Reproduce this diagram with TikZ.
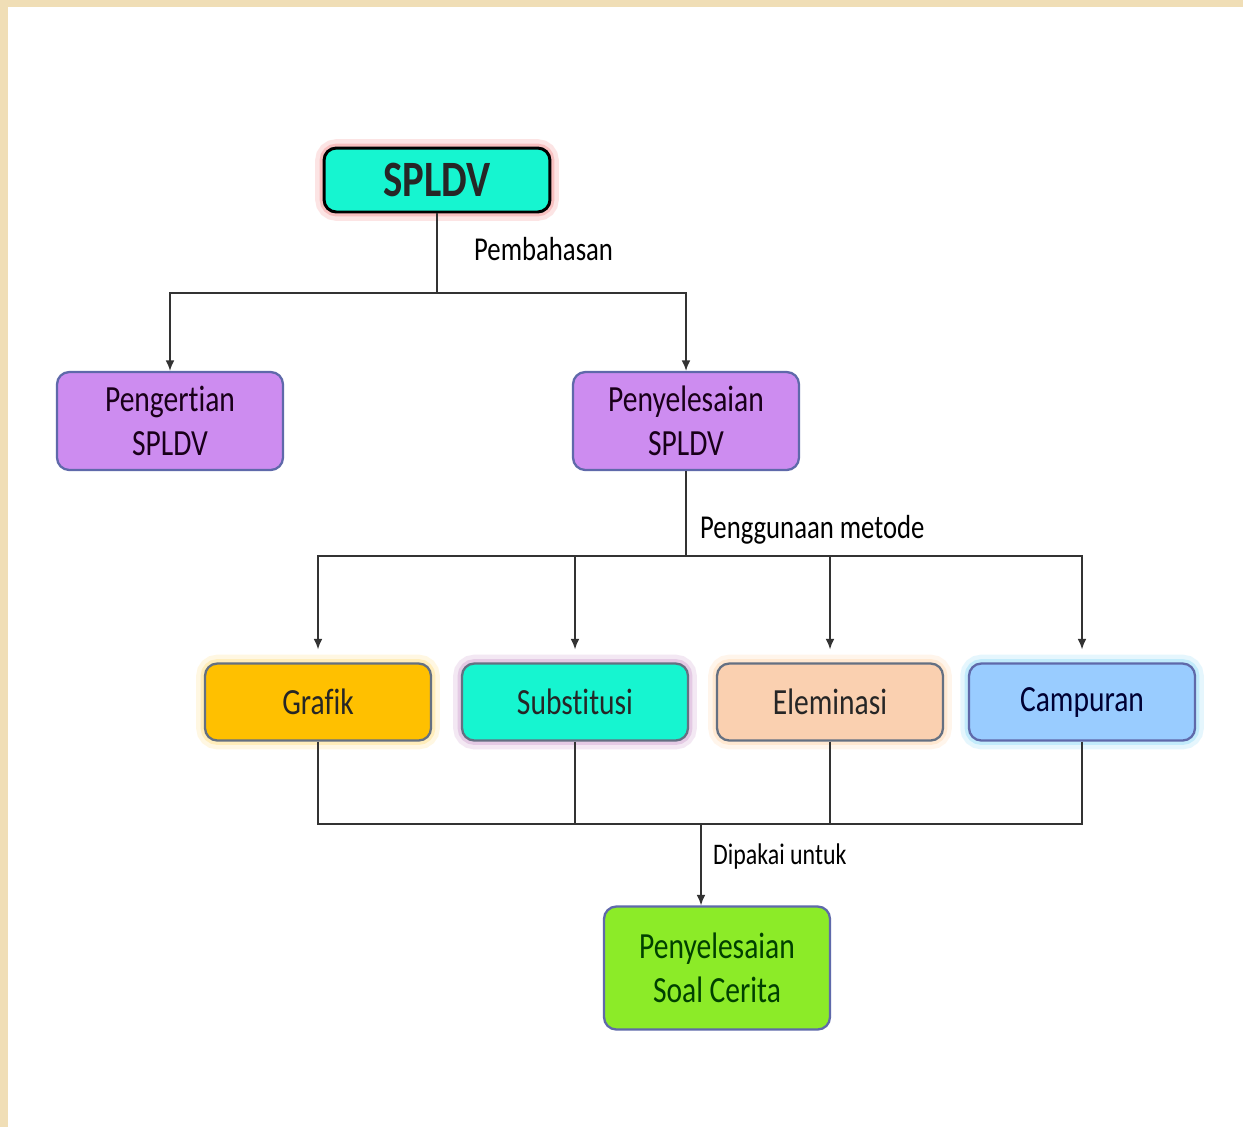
\documentclass[tikz,border=0pt]{standalone}
\usepackage{fontspec}
\setmainfont{Carlito}[FakeStretch=0.8, Ligatures=NoCommon]
\usetikzlibrary{arrows.meta}
\definecolor{paper}{RGB}{240,222,182}
\definecolor{tosca}{RGB}{22,245,208}
\definecolor{pinkglow}{RGB}{245,150,150}
\definecolor{ungu}{RGB}{205,140,240}
\definecolor{unguline}{RGB}{95,105,170}
\definecolor{oranye}{RGB}{255,192,0}
\definecolor{peach}{RGB}{250,208,176}
\definecolor{biru}{RGB}{153,204,255}
\definecolor{hijau}{RGB}{140,235,40}
\definecolor{abu}{RGB}{100,112,130}
\tikzset{
box/.style={draw=abu, rounded corners=7pt, line width=1.3pt, align=center,
  minimum width=4.52cm, font=\fontsize{21}{25}\selectfont, text=black!85},
glow/.style={preaction={draw=#1, line width=10pt, opacity=0.25},
  preaction={draw=#1, line width=5pt, opacity=0.45}},
arr/.style={-{Latex[length=6pt,width=5pt]}},
conn/.style={line width=0.8pt, draw=black!80},
lbl/.style={anchor=west, font=\fontsize{19}{22}\selectfont}
}
\begin{document}
\begin{tikzpicture}[x=0.02cm,y=-0.02cm]
\useasboundingbox (0,0) rectangle (1243,1127);
\fill[paper] (0,0) rectangle (1243,1127);
\fill[white] (8,7) rectangle (1243,1127);
\node[box, glow=pinkglow, draw=black, line width=1.7pt, fill=tosca, minimum height=1.28cm,
  font=\fontsize{29}{32}\selectfont\bfseries] at (437,180) (spldv) {SPLDV};
\node[box, draw=unguline, fill=ungu, minimum height=1.96cm, text=black!80!violet] at (170,421) (pengertian) {Pengertian\\SPLDV};
\node[box, draw=unguline, fill=ungu, minimum height=1.96cm, text=black!80!violet] at (686,421) (penyelesaian) {Penyelesaian\\SPLDV};
\node[box, glow=oranye!45, fill=oranye, minimum height=1.54cm] at (318,702) (grafik) {Grafik};
\node[box, glow=violet!35, fill=tosca, minimum height=1.54cm] at (575,702) (substitusi) {Substitusi};
\node[box, glow=orange!30, fill=peach, minimum height=1.54cm] at (830,702) (eleminasi) {Eleminasi};
\node[box, glow=cyan!40, draw=unguline, fill=biru, minimum height=1.54cm, text=black!80!blue] at (1082,702) (campuran) {Campuran};
\node[box, draw=unguline, fill=hijau, minimum height=2.46cm, text=black!75!green] at (717,968) (soal) {Penyelesaian\\Soal Cerita};
% SPLDV ke dua cabang
\coordinate (j1) at (437,293);
\draw[conn] (spldv) -- (j1);
\draw[conn, arr] (j1) -| (pengertian.north);
\draw[conn, arr] (j1) -| (penyelesaian.north);
\node[lbl] at (468,249) (pembahasan) {Pembahasan};
% metode
\coordinate (j2) at (686,556);
\draw[conn] (penyelesaian) -- (j2);
\draw[conn, arr, shorten >=0.26cm] (j2) -| (grafik.north);
\draw[conn, arr, shorten >=0.26cm] (j2) -| (substitusi.north);
\draw[conn, arr, shorten >=0.26cm] (j2) -| (eleminasi.north);
\draw[conn, arr, shorten >=0.26cm] (j2) -| (campuran.north);
\node[lbl] at (694,530) (metode) {Penggunaan metode};
% ke soal cerita
\coordinate (j3) at (701,824);
\draw[conn] (grafik.south) |- (j3);
\draw[conn] (campuran.south) |- (j3);
\draw[conn] (substitusi.south) -- (substitusi.south |- j3);
\draw[conn] (eleminasi.south) -- (eleminasi.south |- j3);
\draw[conn, arr] (j3) -- (j3 |- soal.north);
\node[lbl, font=\fontsize{17}{20}\selectfont] at (707,857) (dipakai) {Dipakai untuk};
\end{tikzpicture}
\end{document}
